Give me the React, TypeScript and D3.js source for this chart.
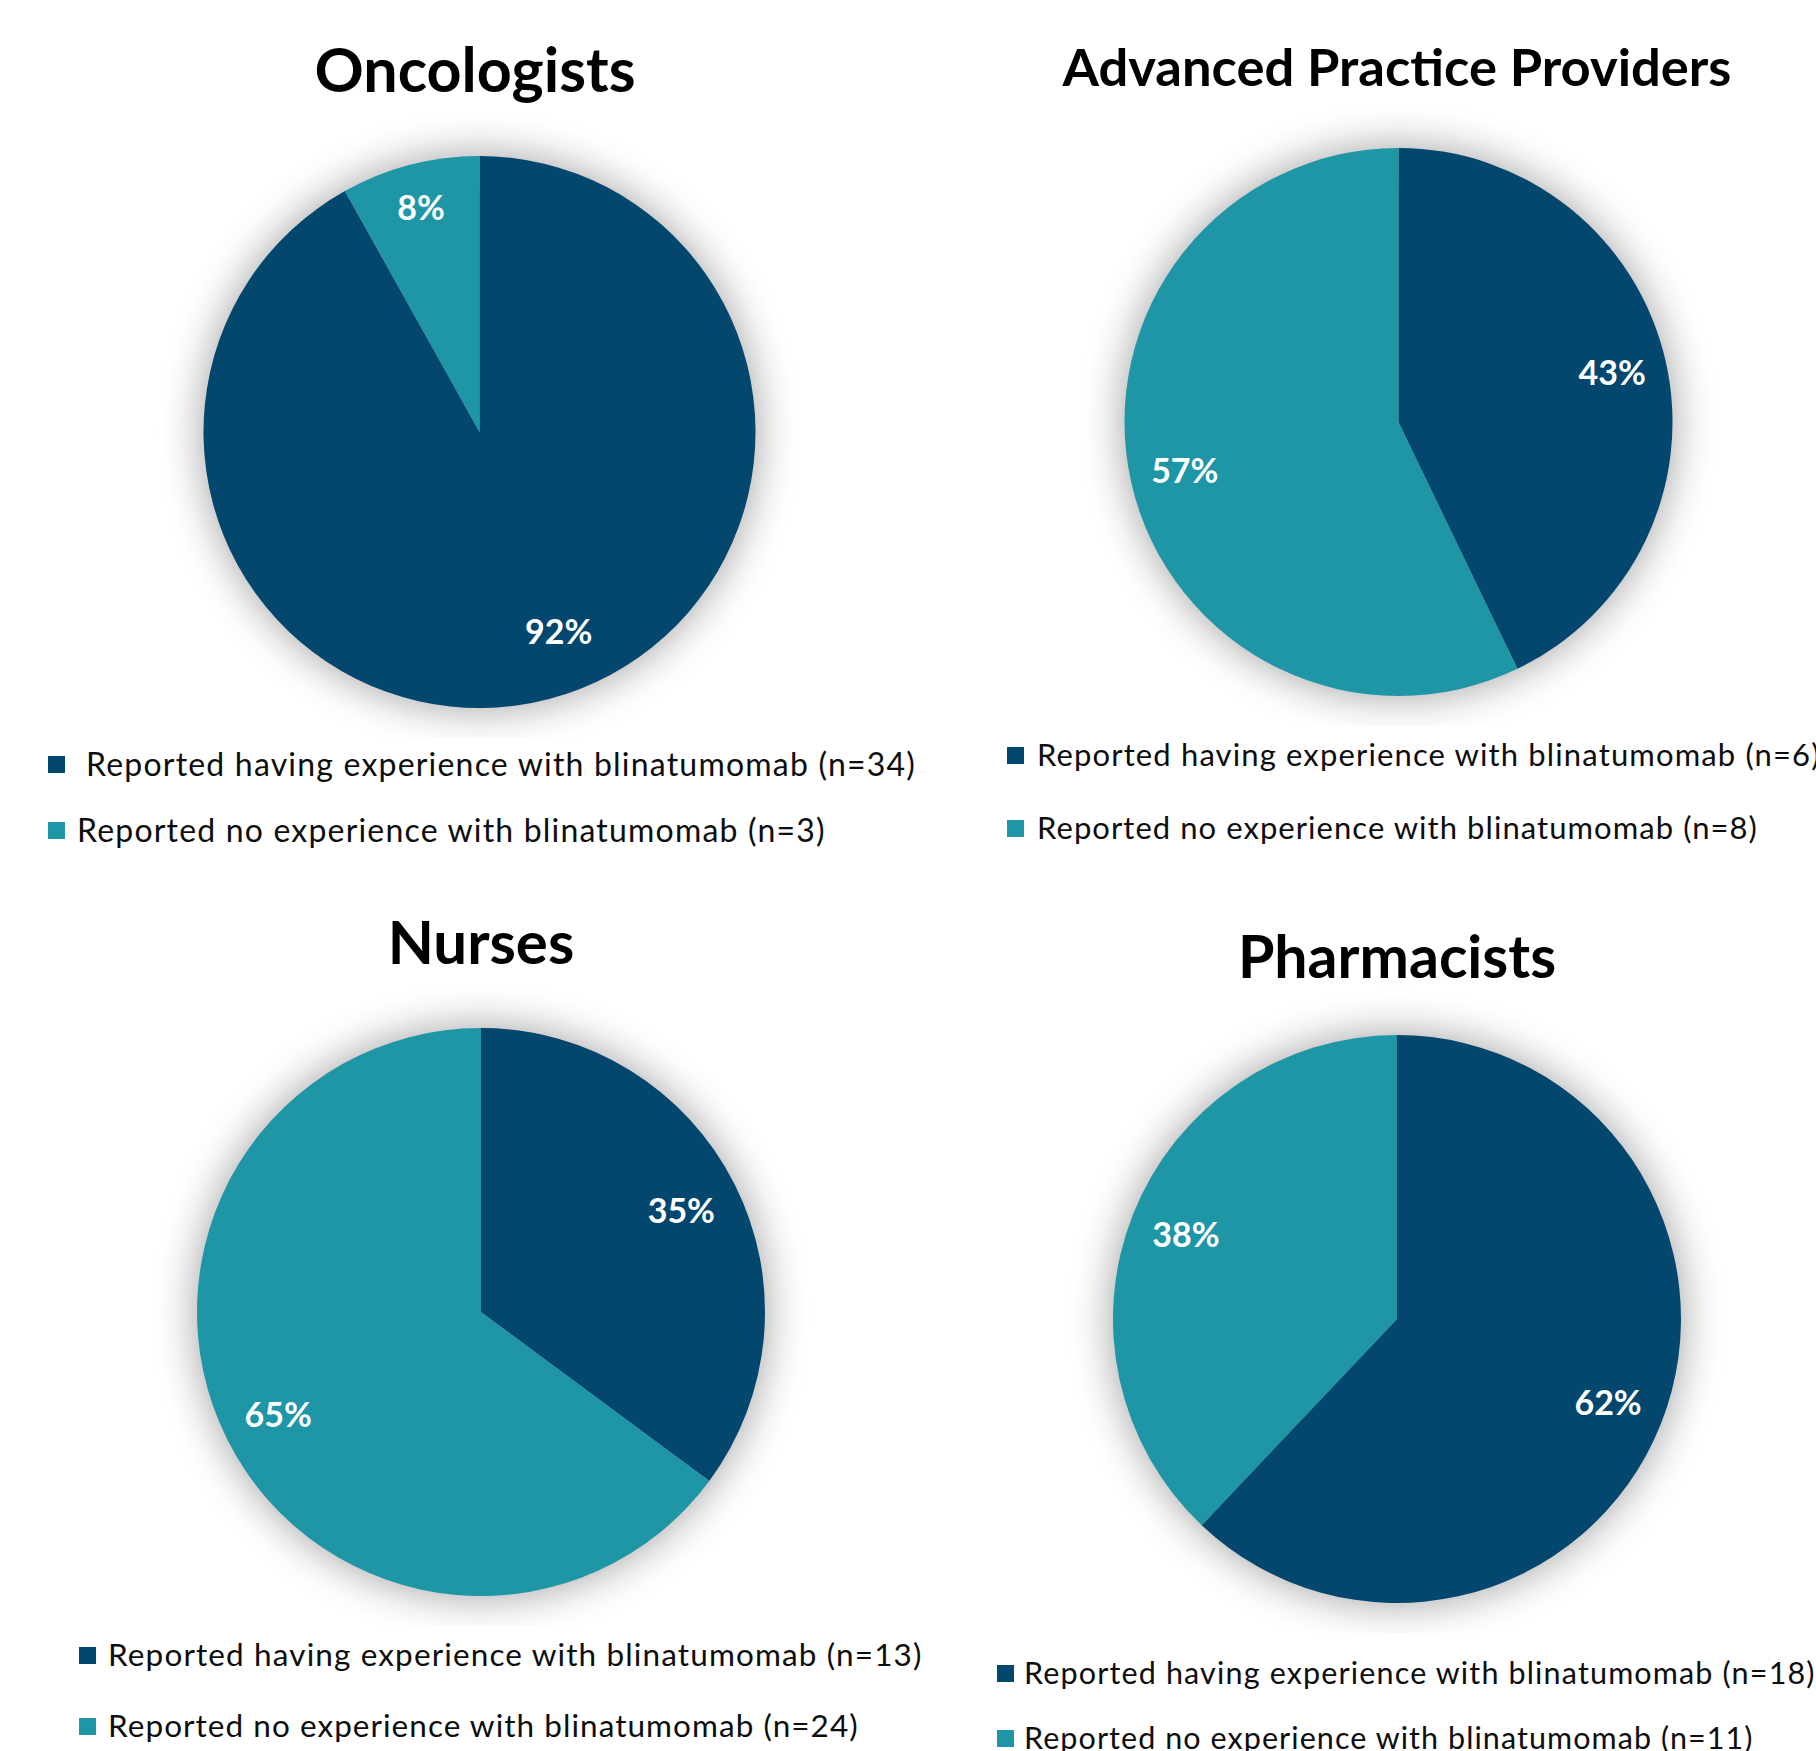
import React, { useEffect } from "react";
import * as d3 from "d3";

// ---- data ----
const panelTitles = ["Oncologists", "Advanced Practice Providers", "Nurses", "Pharmacists"];
const experienceCounts = [34, 6, 13, 18];
const noExperienceCounts = [3, 8, 24, 11];
const seriesNames = [
  "Reported having experience with blinatumomab",
  "Reported no experience with blinatumomab",
];
const seriesColors = ["#03476F", "#1E96A6"];

// ---- layout (positions / styles only) ----
const W = 1816;
const H = 1751;
const layouts = [
  {
    cx: 479.5, cy: 432, r: 276, titleY: 92, titleX: 475, titleSize: 61,
    labelNudge: [{ da: -7, rf: 0.78 }, { da: 0, rf: 0.84 }],
    legX: 48, legTextX: [86, 77], legY: [764, 830], legSize: 32, legCharW: 16.25,
  },
  {
    cx: 1398.5, cy: 422, r: 274, titleY: 86, titleX: 1397, titleSize: 52.5,
    labelNudge: [{ da: 0, rf: 0.8 }, { da: 0, rf: 0.8 }],
    legX: 1007, legTextX: [1037, 1037], legY: [755, 828], legSize: 31, legCharW: 15.65,
  },
  {
    cx: 481, cy: 1312, r: 284, titleY: 964, titleX: 481, titleSize: 60,
    labelNudge: [{ da: 0, rf: 0.79 }, { da: 0, rf: 0.8 }],
    legX: 79, legTextX: [108, 108], legY: [1655, 1726], legSize: 31.5, legCharW: 15.95,
  },
  {
    cx: 1397, cy: 1319, r: 284, titleY: 978, titleX: 1397, titleSize: 59,
    labelNudge: [{ da: 0, rf: 0.8 }, { da: 0, rf: 0.8 }],
    legX: 997, legTextX: [1024, 1024], legY: [1673, 1738], legSize: 30.5, legCharW: 15.5,
  },
];

const FONT = "Lato, 'Open Sans', sans-serif";

function Panel({ i }: { i: number }) {
  const L = layouts[i];
  const values = [experienceCounts[i], noExperienceCounts[i]];
  const total = d3.sum(values);
  const pie = d3.pie<number>().sort(null).value((d) => d);
  const arcs = pie(values);
  const arc = d3.arc<d3.PieArcDatum<number>>().innerRadius(0).outerRadius(L.r);
  const pct = d3.format(".0%");
  const clipId = `clip-${i}`;
  return (
    <g>
      <defs>
        <clipPath id={clipId}>
          <rect x={L.cx - L.r - 80} y={L.cy - L.r - 80} width={2 * L.r + 160} height={2 * L.r + 80 + 30} />
        </clipPath>
      </defs>
      <text
        x={L.titleX}
        y={L.titleY}
        textAnchor="middle"
        fontFamily={FONT}
        fontWeight={700}
        fontSize={L.titleSize}
        fill="#000"
      >
        {panelTitles[i]}
      </text>
      <g clipPath={`url(#${clipId})`}>
        <circle cx={L.cx} cy={L.cy} r={L.r} fill="#000" opacity={0.38} filter="url(#softShadow)" />
      </g>
      <g transform={`translate(${L.cx},${L.cy})`}>
        {arcs.map((a, k) => (
          <path key={k} d={arc(a) || ""} fill={seriesColors[k]} />
        ))}
        {arcs.map((a, k) => {
          const n = L.labelNudge[k];
          const mid = (a.startAngle + a.endAngle) / 2 + (n.da * Math.PI) / 180;
          const rr = L.r * n.rf;
          const x = Math.sin(mid) * rr;
          const y = -Math.cos(mid) * rr;
          return (
            <text
              key={"l" + k}
              x={x}
              y={y}
              dy="0.36em"
              textAnchor="middle"
              fontFamily={FONT}
              fontWeight={700}
              fontSize={34}
              fill="#fff"
            >
              {pct(a.value / total)}
            </text>
          );
        })}
      </g>
      {seriesNames.map((name, k) => {
        const label = `${name} (n=${values[k]})`;
        return (
          <g key={"lg" + k}>
            <rect x={L.legX} y={L.legY[k] - 8} width={17} height={17} fill={seriesColors[k]} />
            <text
              x={L.legTextX[k]}
              y={L.legY[k]}
              dy="0.36em"
              fontFamily={FONT}
              fontSize={L.legSize}
              fill="#0d0d0d"
              textLength={label.length * L.legCharW}
              lengthAdjust="spacing"
            >
              {label}
            </text>
          </g>
        );
      })}
    </g>
  );
}

export default function App() {
  useEffect(() => {
    document.body.style.margin = "0";
    document.body.style.overflow = "hidden";
  }, []);
  return (
    <svg width={W} height={H} viewBox={`0 0 ${W} ${H}`} style={{ display: "block", background: "#fff" }}>
      <defs>
        <filter id="softShadow" x="-30%" y="-30%" width="160%" height="160%">
          <feGaussianBlur stdDeviation="22" />
        </filter>
      </defs>
      <rect x={0} y={0} width={W} height={H} fill="#fff" />
      {panelTitles.map((_, i) => (
        <Panel key={i} i={i} />
      ))}
    </svg>
  );
}
